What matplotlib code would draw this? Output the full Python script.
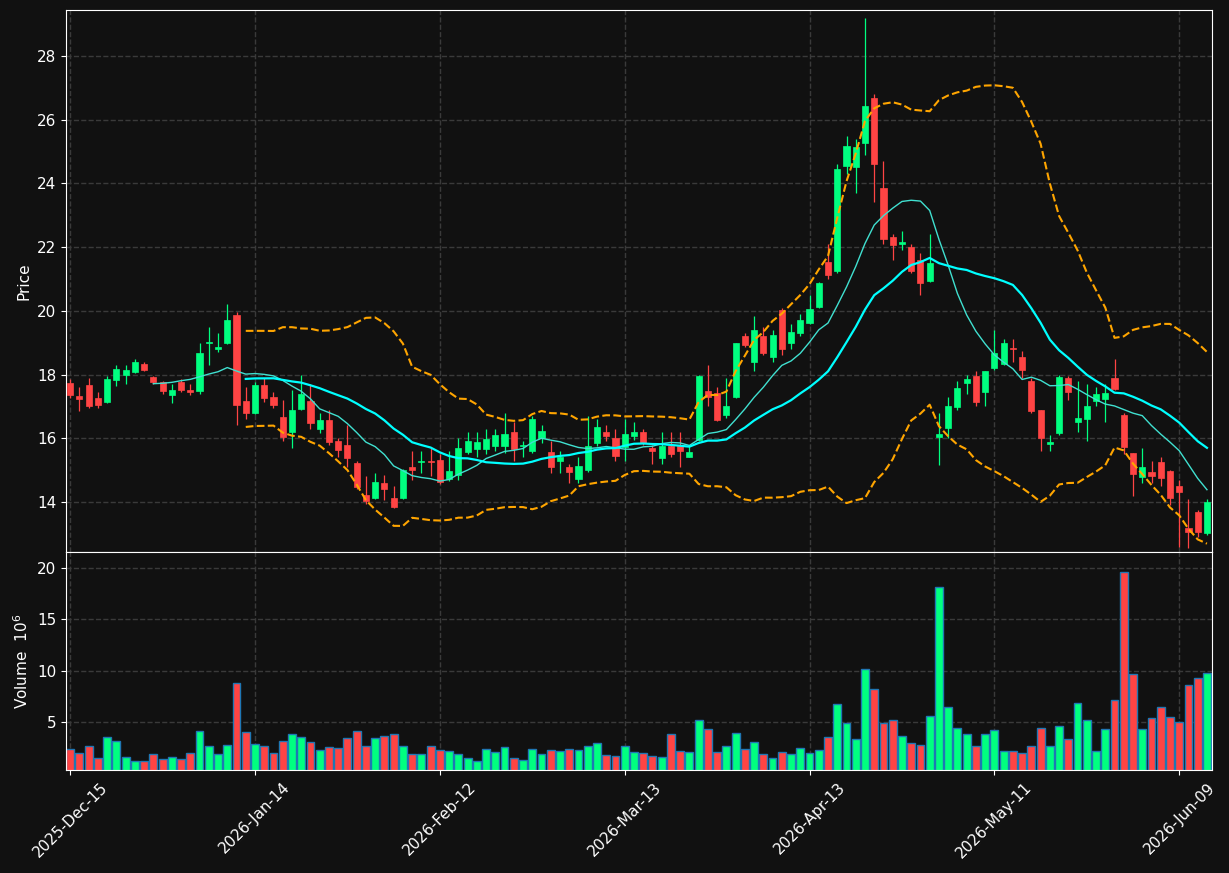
import numpy as np
import pandas as pd
import matplotlib
matplotlib.use("Agg")
import matplotlib.pyplot as plt
from matplotlib.patches import Rectangle

opens = [17.74, 17.33, 17.67, 17.27, 17.14, 17.83, 17.98, 18.08, 18.33, 17.93,
         17.77, 17.36, 17.77, 17.52, 17.49, 18.98, 18.80, 18.99, 19.87, 17.17,
         16.80, 17.67, 17.30, 16.67, 16.20, 16.92, 17.17, 16.30, 16.57, 15.90,
         15.78, 15.22, 14.22, 14.13, 14.60, 14.13, 14.13, 15.10, 15.25, 15.30,
         15.32, 14.72, 14.85, 15.57, 15.66, 15.66, 15.76, 15.76, 16.20, 15.76,
         15.60, 16.00, 15.57, 15.30, 15.10, 14.72, 15.00, 15.86, 16.20, 16.00,
         15.73, 16.07, 16.20, 15.70, 15.38, 15.76, 15.76, 15.41, 15.95, 17.48,
         17.42, 16.73, 17.30, 19.21, 18.40, 19.21, 18.55, 20.03, 18.99, 19.30,
         19.62, 20.12, 21.53, 21.25, 24.55, 24.52, 25.27, 26.68, 23.86, 22.32,
         22.10, 22.00, 21.60, 20.94, 16.04, 16.33, 16.98, 17.74, 17.96, 17.45,
         18.20, 18.33, 18.84, 18.55, 17.80, 16.89, 15.82, 16.17, 17.90, 16.51,
         16.60, 17.17, 17.23, 17.90, 16.73, 15.54, 14.78, 14.94, 15.26, 14.97,
         14.50, 13.19, 13.69, 13.03]
closes = [17.36, 17.23, 17.00, 17.05, 17.86, 18.17, 18.14, 18.40, 18.14, 17.77,
          17.49, 17.52, 17.52, 17.46, 18.68, 19.02, 18.87, 19.71, 17.05, 16.80,
          17.67, 17.26, 17.05, 16.04, 16.90, 17.40, 16.48, 16.57, 15.88, 15.63,
          15.38, 14.47, 14.03, 14.63, 14.40, 13.84, 15.00, 15.00, 15.30, 15.25,
          14.63, 14.97, 15.70, 15.92, 15.88, 15.98, 16.10, 16.13, 15.66, 15.80,
          16.60, 16.23, 15.10, 15.41, 14.94, 15.13, 15.76, 16.36, 16.07, 15.44,
          16.13, 16.20, 15.86, 15.60, 15.76, 15.50, 15.60, 15.57, 17.96, 17.30,
          16.57, 17.00, 18.99, 18.93, 19.40, 18.68, 19.24, 18.80, 19.34, 19.71,
          20.06, 20.87, 21.13, 24.45, 25.18, 25.14, 26.43, 24.61, 22.26, 22.07,
          22.16, 21.25, 20.87, 21.50, 16.14, 17.00, 17.58, 17.86, 17.14, 18.11,
          18.68, 18.99, 18.80, 18.14, 16.86, 16.01, 15.88, 17.93, 17.45, 16.64,
          17.00, 17.39, 17.42, 17.55, 15.73, 14.88, 15.10, 14.82, 14.75, 14.13,
          14.32, 13.06, 13.06, 14.00]
highs = [17.85, 17.6, 17.9, 17.45, 17.95, 18.3, 18.3, 18.5, 18.4, 17.95,
         17.8, 17.7, 17.85, 17.7, 19.0, 19.5, 19.3, 20.2, 19.95, 17.6,
         17.75, 17.9, 17.45, 17.2, 17.5, 18.0, 17.7, 16.8, 16.9, 16.0,
         16.4, 15.3, 14.8, 14.9, 14.85, 14.5, 15.05, 15.6, 15.6, 15.7,
         15.5, 15.6, 16.0, 16.2, 16.2, 16.3, 16.3, 16.8, 16.5, 15.9,
         16.7, 16.4, 15.9, 15.6, 15.2, 15.4, 16.7, 16.6, 16.4, 16.3,
         16.6, 16.5, 16.3, 15.8, 16.2, 16.2, 16.2, 15.8, 18.0, 18.3,
         17.6, 17.9, 19.0, 19.3, 19.85, 19.5, 19.4, 20.1, 19.6, 19.9,
         20.5, 20.9, 22.1, 24.6, 25.5, 25.4, 29.2, 26.8, 24.7, 22.4,
         22.5, 22.1, 21.8, 22.4, 16.8, 17.3, 17.8, 18.0, 18.1, 18.1,
         19.4, 19.1, 19.1, 18.75, 17.9, 16.9, 16.1, 18.0, 17.95, 17.8,
         17.7, 17.6, 17.7, 18.5, 16.8, 15.55, 15.7, 15.3, 15.4, 15.0,
         14.7, 14.1, 13.75, 14.1]
lows = [17.25, 16.85, 16.95, 16.95, 17.1, 17.65, 17.7, 18.05, 18.1, 17.7,
        17.4, 17.1, 17.45, 17.35, 17.4, 18.3, 18.7, 18.95, 16.4, 16.6,
        16.75, 17.15, 16.95, 15.9, 15.7, 16.9, 16.3, 16.15, 15.8, 15.4,
        15.1, 14.4, 13.95, 14.1, 14.05, 13.8, 14.1, 14.7, 14.9, 14.8,
        14.55, 14.65, 14.7, 15.5, 15.4, 15.5, 15.6, 15.55, 15.3, 15.4,
        15.55, 15.85, 14.9, 14.9, 14.6, 14.6, 14.95, 15.75, 15.9, 15.3,
        15.3, 15.95, 15.8, 15.2, 15.2, 15.4, 15.1, 15.4, 15.9, 17.0,
        16.55, 16.65, 17.25, 18.85, 18.1, 18.6, 18.4, 18.6, 18.8, 19.2,
        19.6, 20.1, 21.0, 21.2, 24.3, 23.7, 24.9, 23.4, 22.1, 21.6,
        21.9, 21.2, 20.5, 20.9, 15.15, 16.0, 16.9, 17.4, 17.0, 17.0,
        18.15, 18.3, 18.4, 17.9, 16.8, 15.6, 15.6, 16.1, 17.2, 16.2,
        15.9, 17.0, 16.5, 17.5, 15.5, 14.2, 14.6, 14.6, 14.5, 13.9,
        12.6, 12.55, 12.9, 12.95]
volumes = [2.35, 1.96, 2.65, 1.47, 3.53, 3.14, 1.57, 1.18, 1.18, 1.86,
           1.37, 1.57, 1.37, 1.96, 4.12, 2.65, 1.86, 2.75, 8.82, 4.02,
           2.84, 2.65, 1.96, 3.14, 3.82, 3.53, 3.04, 2.26, 2.55, 2.45,
           3.43, 4.12, 2.65, 3.43, 3.63, 3.82, 2.65, 1.86, 1.86, 2.65,
           2.26, 2.16, 1.86, 1.47, 1.18, 2.35, 2.06, 2.55, 1.47, 1.27,
           2.35, 1.86, 2.26, 2.16, 2.35, 2.26, 2.65, 2.94, 1.76, 1.67,
           2.65, 2.06, 1.96, 1.67, 1.57, 3.82, 2.16, 2.06, 5.2, 4.31,
           2.06, 2.65, 3.92, 2.35, 3.04, 1.86, 1.47, 2.06, 1.86, 2.45,
           1.96, 2.26, 3.53, 6.76, 4.9, 3.33, 10.2, 8.24, 4.9, 5.2,
           3.63, 2.94, 2.75, 5.59, 18.13, 6.47, 4.41, 3.82, 2.65, 3.82,
           4.2, 2.16, 2.16, 1.96, 2.65, 4.41, 2.65, 4.61, 3.33, 6.86,
           5.2, 2.16, 4.31, 7.16, 19.6, 9.67, 4.31, 5.39, 6.47, 5.49,
           5.0, 8.63, 9.3, 9.8]
tick_pos = [0, 20, 40, 60, 80, 100, 120]
tick_labels = ["2025-Dec-15", "2026-Jan-14", "2026-Feb-12", "2026-Mar-13",
               "2026-Apr-13", "2026-May-11", "2026-Jun-09"]

BG = "#111111"
UP = "#00ff80"
DOWN = "#ff4444"

closes_s = pd.Series(closes)
mav10 = closes_s.rolling(10).mean()
mav20 = closes_s.rolling(20).mean()
std20 = closes_s.rolling(20).std(ddof=0)
bb_up = mav20 + 2 * std20
bb_lo = mav20 - 2 * std20

fig = plt.figure(figsize=(12.29, 8.73), dpi=100, facecolor=BG)
ax = fig.add_axes([0.0537, 0.3677, 0.9325, 0.6209], facecolor=BG)
axv = fig.add_axes([0.0537, 0.118, 0.9325, 0.2497], facecolor=BG, sharex=ax)

x = np.arange(len(closes))
for i in x:
    o, c = opens[i], closes[i]
    col = UP if c >= o else DOWN
    ax.vlines(i, lows[i], highs[i], color=col, linewidth=0.9, zorder=2)
    ax.add_patch(Rectangle((i - 0.33, min(o, c)), 0.66, max(abs(c - o), 0.03),
                           facecolor=col, edgecolor=col, linewidth=0.5, zorder=3))
    axv.bar(i, volumes[i], width=0.85, color=col, edgecolor="#1f77b4", linewidth=1, zorder=2)

ax.plot(x, mav10, color="#40e0d0", linewidth=1.0, zorder=4)
ax.plot(x, mav20, color="#00ffff", linewidth=1.6, zorder=4)
ax.plot(x, bb_up, color="#ffa500", linestyle="--", linewidth=1.5, zorder=4)
ax.plot(x, bb_lo, color="#ffa500", linestyle="--", linewidth=1.5, zorder=4)

for a in (ax, axv):
    a.grid(True, color="#3a3a3a", linestyle="--", linewidth=1)
    a.set_axisbelow(True)
    for s in a.spines.values():
        s.set_color("white")
    a.tick_params(colors="white", labelsize=11)

ax.set_xlim(-0.45, len(closes) - 0.45)
ax.set_ylim(12.43, 29.44)
ax.set_yticks([14, 16, 18, 20, 22, 24, 26, 28])
ax.set_ylabel("Price", color="white", fontsize=11)
ax.tick_params(labelbottom=False, bottom=False)

axv.set_ylim(0.33, 21.56)
axv.set_yticks([5, 10, 15, 20])
axv.set_ylabel("Volume  $10^{6}$", color="white", fontsize=11)
axv.set_xticks(tick_pos)
axv.set_xticklabels(tick_labels, rotation=45, ha="center")

fig.savefig("out.png", dpi=100, facecolor=BG)
